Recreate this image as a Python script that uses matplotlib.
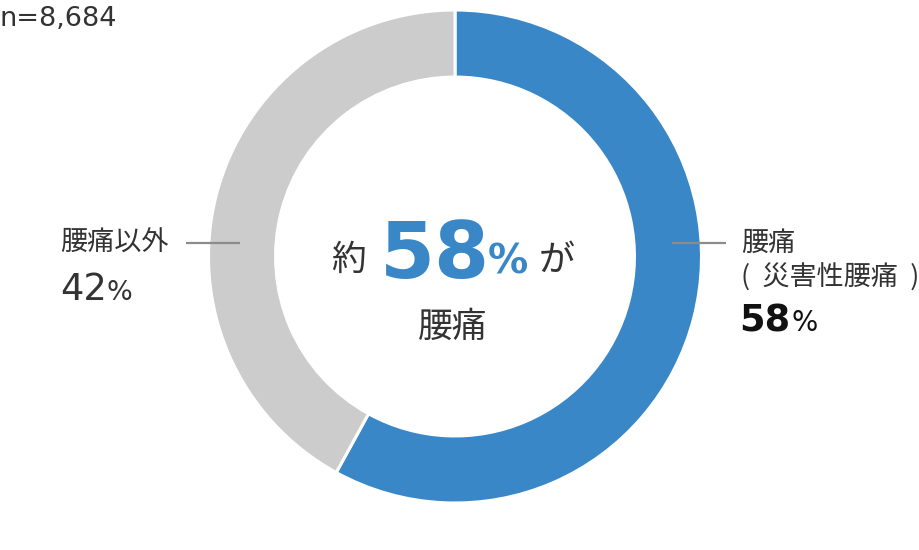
import matplotlib
matplotlib.use("Agg")
import matplotlib.pyplot as plt

# data
labels = ["腰痛（災害性腰痛）", "腰痛以外"]
values = [58, 42]
colors = ["#3a87c8", "#cccccc"]
n_total = "n=8,684"

W, H = 920, 550
cjk = ["Noto Sans CJK JP", "DejaVu Sans"]
num = ["DejaVu Sans"]
dark = "#333333"

fig = plt.figure(figsize=(W / 100, H / 100), dpi=100)

# donut: centre (455, 256.5), outer radius 246.5 px
cx, cy, r = 455, 256.5, 246.5
ax = fig.add_axes([(cx - r) / W, (H - cy - r) / H, 2 * r / W, 2 * r / H])
ax.pie(values, colors=colors, startangle=90, counterclock=False, radius=1,
       wedgeprops=dict(width=0.272, edgecolor="white", linewidth=2.2))
ax.set_xlim(-1, 1)
ax.set_ylim(-1, 1)
ax.set_aspect("equal")
ax.axis("off")

# overlay axes in pixel coordinates for text and leader lines
bg = fig.add_axes([0, 0, 1, 1])
bg.set_zorder(3)
bg.patch.set_alpha(0)
bg.set_xlim(0, W)
bg.set_ylim(H, 0)
bg.axis("off")

# leader lines
bg.plot([186, 240], [243, 243], color="#8c8c8c", lw=1.6, solid_capstyle="butt")
bg.plot([672, 726], [243, 243], color="#8c8c8c", lw=1.6, solid_capstyle="butt")

# sample size
bg.text(0, 26, n_total, fontsize=19.5, family=num, color=dark, va="baseline")

# left label
bg.text(60, 251, "腰痛以外", fontsize=19.5, family=cjk, color=dark, va="baseline")
bg.text(60, 300, f"{values[1]}", fontsize=26.5, family=num, color=dark, va="baseline")
bg.text(107, 300, "%", fontsize=19.5, family=num, color=dark, va="baseline")

# right label
bg.text(741, 251, "腰痛", fontsize=19.5, family=cjk, color=dark, va="baseline")
bg.text(741, 286, "(  災害性腰痛  )", fontsize=19.5, family=cjk, color=dark, va="baseline")
bg.text(739, 331, f"{values[0]}", fontsize=26.5, family=num, color="#111111",
        fontweight="bold", va="baseline")
bg.text(792, 331, "%", fontsize=20, family=num, color="#111111", va="baseline")

# centre text
bg.text(331, 270, "約", fontsize=25, family=cjk, color=dark, va="baseline")
bg.text(380, 278, f"{values[0]}", fontsize=57, family=num, color=colors[0],
        fontweight="bold", va="baseline")
bg.text(488, 273, "%", fontsize=29, family=num, color=colors[0],
        fontweight="bold", va="baseline")
bg.text(539, 271, "が", fontsize=26, family=cjk, color=dark, va="baseline")
bg.text(418, 337, "腰痛", fontsize=25, family=cjk, color=dark, va="baseline")

fig.savefig("out.png", dpi=100)
